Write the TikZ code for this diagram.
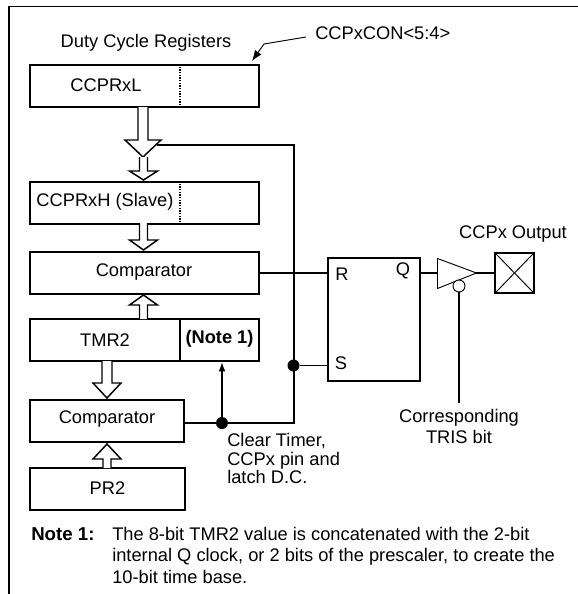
\documentclass[tikz,border=0pt]{standalone}
\usepackage{fontspec}
\setmainfont{Liberation Sans}
\usetikzlibrary{positioning,arrows.meta,shapes}
\tikzset{
    regbox/.style={
        rectangle,
        draw=black,
        line width=1.4pt,
        inner sep=0pt,
        text centered
    },
    wire/.style={
        draw=black,
        line width=1.1pt
    },
    bus/.style={
        draw=black,
        line width=1.1pt,
        fill=white,
        line join=miter
    },
    joint/.style={
        circle,
        fill=black,
        inner sep=0pt,
        minimum size=9pt
    },
    lbl/.style={
        inner sep=0pt,
        font=\fontsize{13.7pt}{13.9pt}\selectfont,
        align=center
    }
}
% hollow bus arrow: x, top, bottom, half stem, half head, head length
\newcommand{\busarrow}[6]{
    \draw [bus] (#1-#4,#2) -- (#1-#4,#3-#6) -- (#1-#5,#3-#6) -- (#1,#3) -- (#1+#5,#3-#6) -- (#1+#4,#3-#6) -- (#1+#4,#2);
}
\newcommand{\busup}[6]{
    \draw [bus] (#1-#4,#2) -- (#1-#4,#3+#6) -- (#1-#5,#3+#6) -- (#1,#3) -- (#1+#5,#3+#6) -- (#1+#4,#3+#6) -- (#1+#4,#2);
}
\begin{document}
\begin{tikzpicture}[x=0.75pt,y=-0.75pt]
    \useasboundingbox (0,0) rectangle (578,594);
    % outer frame
    \draw [line width=1.4pt] (9,594) -- (9,6.5) -- (578,6.5);
    % registers
    \node (ccprl) [regbox, minimum width=172pt, minimum height=31.5pt] at (144.5,86) {};
    \node (ccprh) [regbox, minimum width=172pt, minimum height=31.5pt] at (144.5,203) {};
    \node (comptop) [regbox, minimum width=172pt, minimum height=31.5pt] at (144.5,273) {};
    \node (tmr) [regbox, minimum width=172pt, minimum height=31.5pt] at (144.5,340) {};
    \node (compbot) [regbox, minimum width=115.5pt, minimum height=31.5pt] at (107,421) {};
    \node (prtwo) [regbox, minimum width=116.5pt, minimum height=31.5pt] at (107.5,489) {};
    \node (latch) [regbox, minimum width=69pt, minimum height=92pt] at (374,319.5) {};
    \node (pin) [regbox, minimum width=29pt, minimum height=30pt] at (514.5,273) {};
    \draw [line width=0.7pt] (pin.north west) -- (pin.south east);
    \draw [line width=0.7pt] (pin.north east) -- (pin.south west);
    % register dividers
    \coordinate (divx) at (180,0);
    \draw [line width=1pt, densely dotted] (divx |- ccprl.north) -- (divx |- ccprl.south);
    \draw [line width=1pt, densely dotted] (divx |- ccprh.north) -- (divx |- ccprh.south);
    \draw [line width=1.1pt] (divx |- tmr.north) -- (divx |- tmr.south);
    % labels
    \node (title) [lbl] at (146,43) {Duty Cycle Registers};
    \node (conbits) [lbl, anchor=west] at (315,33) {CCPxCON<5:4>};
    \node (ccprltext) [lbl] at (106,85.5) {CCPRxL};
    \node (ccprhtext) [lbl] at (105,202) {CCPRxH (Slave)};
    \node (comptoptext) [lbl] at (144,272) {Comparator};
    \node (tmrtext) [lbl] at (105,340) {TMR2};
    \node (notemark) [lbl, font=\fontsize{13.7pt}{13.9pt}\selectfont\bfseries] at (219.5,339) {(Note 1)};
    \node (compbottext) [lbl] at (107,419.5) {Comparator};
    \node (prtwotext) [lbl] at (107.5,488) {PR2};
    \node (rtext) [lbl] at (342,274) {R};
    \node (stext) [lbl] at (341,363) {S};
    \node (qtext) [lbl] at (403,271) {Q};
    \node (output) [lbl] at (513,234) {CCPx Output};
    \node (tris) [lbl, font=\fontsize{13.7pt}{15.7pt}\selectfont, anchor=north] at (459,409) {Corresponding\\TRIS bit};
    \node (clear) [lbl, font=\fontsize{13.7pt}{13.9pt}\selectfont, anchor=north west, align=left] at (227,433) {Clear Timer,\\CCPx pin and\\latch D.C.};
    \node (notehead) [lbl, font=\fontsize{14pt}{14pt}\selectfont\bfseries, anchor=base west] at (31,540) {Note 1:};
    \node (notetext) [lbl, font=\fontsize{13.7pt}{16pt}\selectfont, anchor=north west, align=left] at (112,527) {The 8-bit TMR2 value is concatenated with the 2-bit\\internal Q clock, or 2 bits of the prescaler, to create the\\10-bit time base.};
    % wires
    \node (jsa) [joint] at (293.5,365.5) {};
    \node (jclr) [joint] at (222,423) {};
    \draw [wire] (157,145) -- (294,145) -- (294,423) -- (jclr) -- (jclr -| compbot.east);
    \draw [wire] (comptop.east) -- (latch.west |- comptop.east);
    \draw [wire] (jsa) -- (latch.west |- jsa);
    \draw [wire, -{Latex[length=7pt,width=5pt]}] (jclr) -- (jclr |- tmr.south);
    % bus arrows
    \busarrow{143}{107}{157}{5}{18}{17}
    \busarrow{143.5}{157}{180}{4}{14}{9}
    \busarrow{143.5}{223}{250}{4}{14}{10}
    \busup{143.5}{319}{295}{4}{14}{10}
    \busarrow{107}{361}{398}{5}{14}{15}
    \busup{107}{468}{444}{4}{14}{15}
    % tristate buffer
    \coordinate (bufin) at (438,273);
    \coordinate (bufout) at (476,273);
    \draw [wire] (latch.east |- bufin) -- (bufin);
    \draw [wire] (bufout) -- (pin.west);
    \draw [line width=0.7pt, fill=white] (437.5,258.5) -- (476.5,273) -- (437.5,288.5) -- cycle;
    \node (bubble) [circle, draw=black, fill=white, line width=0.7pt, inner sep=0pt, minimum size=9pt] at (459,286) {};
    \coordinate (trisend) at (459,403);
    \draw [wire] (bubble) -- (trisend);
    % control bits pointer
    \coordinate (conend) at (306,37);
    \coordinate (conbend) at (264,44);
    \coordinate (contip) at (252,61);
    \draw [line width=0.7pt, -{Latex[length=8pt,width=6pt]}] (conend) -- (conbend) -- (contip);
\end{tikzpicture}
\end{document}
